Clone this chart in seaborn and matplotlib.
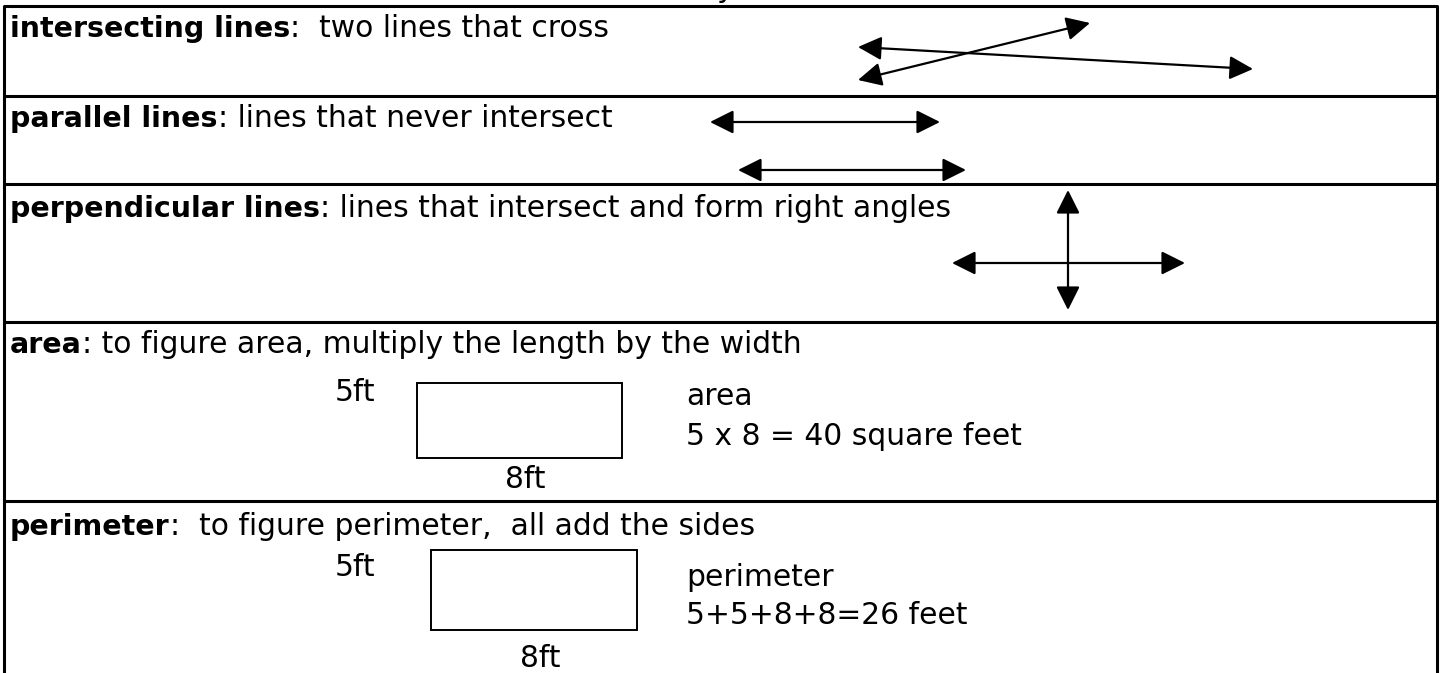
import matplotlib
matplotlib.use("Agg")
import matplotlib.pyplot as plt
import seaborn as sns
from matplotlib.patches import Rectangle

# worksheet content
terms = ["intersecting lines", "parallel lines", "perpendicular lines", "area", "perimeter"]
definitions = [
    ":  two lines that cross",
    ": lines that never intersect",
    ": lines that intersect and form right angles",
    ": to figure area, multiply the length by the width",
    ":  to figure perimeter,  all add the sides",
]
row_lines = [6, 96, 184, 322, 501]
text_baselines = [37, 127, 217, 353, 535]

# arrows (start, end) in page pixels
intersect_arrows = [((858, 47), (1253, 69)), ((858, 80), (1090, 23))]
parallel_arrows = [((710, 122), (940, 122)), ((738, 170), (966, 170))]
perp_arrows = [((1068, 190), (1068, 310)), ((952, 263), (1185, 263))]

# rectangles: left, top, width, height
area_rect = (417, 383, 205, 75)
perim_rect = (431, 550, 206, 80)
side_labels = ["5ft", "8ft"]
area_notes = ["area", "5 x 8 = 40 square feet"]
perim_notes = ["perimeter", "5+5+8+8=26 feet"]

sns.set_theme(style="white")
plt.rcParams['font.family'] = ['DejaVu Sans']
plt.rcParams['text.color'] = 'black'
FS = 21.4
FS_BOLD = 20.5

fig = plt.figure(figsize=(14.42, 6.73), dpi=100)
ax = fig.add_axes([0, 0, 1, 1])
ax.set_xlim(0, 1442)
ax.set_ylim(673, 0)
ax.axis('off')

# table grid
left, right = 4, 1437
for y in row_lines:
    ax.plot([left, right], [y, y], color='black', lw=2.2, solid_capstyle='butt')
ax.plot([left, left], [row_lines[0], 673], color='black', lw=2.2)
ax.plot([right, right], [row_lines[0], 673], color='black', lw=2.2)

# cut-off title glyph at top
ax.text(716, -3, "y", fontsize=FS, va='baseline', ha='left')

# headings: bold term followed by plain definition
for term, desc, yb in zip(terms, definitions, text_baselines):
    t = ax.text(10, yb, term, fontsize=FS_BOLD, fontweight='bold', va='baseline', ha='left')
    ax.annotate(desc, xy=(1, 0), xycoords=t, va='bottom', ha='left', fontsize=FS)

arrow_kw = dict(arrowstyle="<|-|>,head_length=0.4,head_width=0.2", mutation_scale=36,
                lw=1.6, color='black', shrinkA=0, shrinkB=0)
for start, end in intersect_arrows + parallel_arrows + perp_arrows:
    ax.annotate("", xy=end, xytext=start, arrowprops=arrow_kw)

# area / perimeter figures: rect, notes, note x, 5ft / note1 / note2 / 8ft baselines
figures = [(area_rect, area_notes, 686, 401, 405, 445, 488),
           (perim_rect, perim_notes, 686, 576, 586, 624, 667)]
for (x0, y0, w, h), notes, xn, y5, yn1, yn2, y8 in figures:
    ax.add_patch(Rectangle((x0, y0), w, h, fill=False, edgecolor='black', lw=1.4))
    ax.text(375, y5, side_labels[0], fontsize=FS, ha='right', va='baseline')
    ax.text(x0 + w / 2 + 6, y8, side_labels[1], fontsize=FS, ha='center', va='baseline')
    ax.text(xn, yn1, notes[0], fontsize=FS, ha='left', va='baseline')
    ax.text(xn, yn2, notes[1], fontsize=FS, ha='left', va='baseline')

fig.savefig("out.png", dpi=100, facecolor='white')
